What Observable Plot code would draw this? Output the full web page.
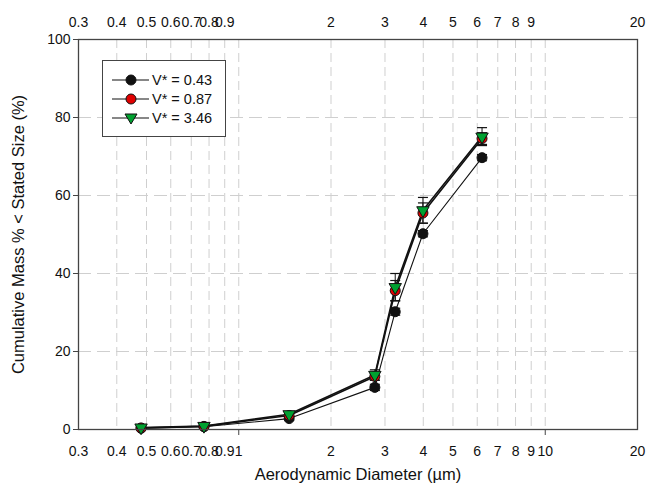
<!DOCTYPE html>
<html>
<head>
<meta charset="utf-8">
<script src="https://cdn.jsdelivr.net/npm/d3@7"></script>
<script src="https://cdn.jsdelivr.net/npm/@observablehq/plot@0.6"></script>
<style>
  html, body { margin: 0; padding: 0; background: #fff; }
  #wrap { position: relative; width: 646px; height: 491px; font-family: "Liberation Sans", Arial, sans-serif; }
  #legend { position: absolute; left: 102px; top: 60px; width: 124px; height: 77px; border: 1px solid #444; background: #fff; box-sizing: border-box; }
</style>
</head>
<body>
<div id="wrap"><div id="chart"></div><div id="legend"></div></div>
<script>
// ---- data ----
const diameters = [0.48, 0.77, 1.46, 2.78, 3.24, 3.99, 6.22];
const seriesNames = ["V* = 0.43", "V* = 0.87", "V* = 3.46"];
const v043 = [0.3, 0.7, 2.8, 10.8, 30.2, 50.2, 69.7];
const v087 = [0.4, 0.8, 3.6, 13.6, 35.6, 55.5, 74.6];
const v346 = [0.5, 0.9, 3.9, 14.0, 36.5, 56.2, 75.1];
const err043 = [0.2, 0.2, 0.4, 0.8, 0.9, 0.8, 0.8];
const err087 = [0.2, 0.3, 0.5, 1.0, 2.6, 2.6, 1.5];
const err346 = [0.2, 0.3, 0.6, 1.3, 3.5, 3.3, 2.3];
const xTicksBottom = [0.3, 0.4, 0.5, 0.6, 0.7, 0.8, 0.9, 1, 2, 3, 4, 5, 6, 7, 8, 9, 10, 20];
const xTicksTop = [0.3, 0.4, 0.5, 0.6, 0.7, 0.8, 0.9, 2, 3, 4, 5, 6, 7, 8, 9, 20];
const xGrid = [0.4, 0.5, 0.6, 0.7, 0.8, 0.9, 1, 2, 3, 4, 5, 6, 7, 8, 9, 10];
const yTicks = [0, 20, 40, 60, 80, 100];
const yGrid = [20, 40, 60, 80];

const styles = [
  {fill: "#111", symbol: "circle", rotate: 0, lw: 1.1, r: 5},
  {fill: "#e00000", symbol: "circle", rotate: 0, lw: 1.6, r: 5},
  {fill: "#00a030", symbol: "triangle", rotate: 180, lw: 1.6, r: 4.6}
];
const values = [v043, v087, v346];
const errs = [err043, err087, err346];

const rows = [];
values.forEach((vals, s) => vals.forEach((v, i) => rows.push({series: s, x: diameters[i], y: v, e: errs[s][i]})));

const cap = {draw(ctx) { ctx.moveTo(-5, 0); ctx.lineTo(5, 0); }};
const font = "'Liberation Sans', Arial, sans-serif";

const marks = [
  Plot.ruleX(xGrid, {stroke: "#cfcfcf", strokeDasharray: "9,5"}),
  Plot.ruleY(yGrid, {stroke: "#cfcfcf", strokeDasharray: "13,6"}),
];
[0, 1, 2].forEach(s => {
  const d = rows.filter(r => r.series === s);
  marks.push(Plot.ruleX(d, {x: "x", y1: r => r.y - r.e, y2: r => r.y + r.e, stroke: "#111", strokeWidth: 1}));
  marks.push(Plot.dot(d, {x: "x", y: r => r.y + r.e, symbol: cap, stroke: "#111", strokeWidth: 1.2, fill: "none"}));
  marks.push(Plot.dot(d, {x: "x", y: r => r.y - r.e, symbol: cap, stroke: "#111", strokeWidth: 1.2, fill: "none"}));
});
[0, 1, 2].forEach(s => {
  const d = rows.filter(r => r.series === s);
  marks.push(Plot.line(d, {x: "x", y: "y", stroke: "#111", strokeWidth: styles[s].lw}));
});
[0, 1, 2].forEach(s => {
  const d = rows.filter(r => r.series === s);
  marks.push(Plot.dot(d, {x: "x", y: "y", symbol: styles[s].symbol, rotate: styles[s].rotate, r: styles[s].r, fill: styles[s].fill, stroke: "#111", strokeWidth: 1}));
});
marks.push(
  Plot.frame({stroke: "#444", strokeWidth: 1.3}),
  // bottom tick labels
  Plot.text(xTicksBottom, {x: d => d, frameAnchor: "bottom", dy: 22, text: d => String(d), fontSize: 14, fill: "#111", lineAnchor: "middle"}),
  // bottom major ticks (1, 10)
  Plot.axisX({anchor: "bottom", ticks: [1, 10], tickSize: 6, tickFormat: () => "", label: null, stroke: "#444"}),
  // top tick labels
  Plot.text(xTicksTop, {x: d => d, frameAnchor: "top", dy: -17, text: d => String(d), fontSize: 14, fill: "#111", lineAnchor: "middle"}),
  Plot.axisY({anchor: "left", ticks: yTicks, tickSize: 5, tickPadding: 3, tickFormat: d => String(d), fontSize: 14, label: null, stroke: "#444"}),
  Plot.text(["Aerodynamic Diameter (µm)"], {frameAnchor: "bottom", dy: 45, fontSize: 16.5, fill: "#111", lineAnchor: "middle"}),
  Plot.text(["Cumulative Mass % < Stated Size (%)"], {frameAnchor: "left", textAnchor: "middle", rotate: -90, dx: -60, fontSize: 16.5, fill: "#111"})
);

const chart = Plot.plot({
  width: 646, height: 491,
  marginLeft: 78, marginRight: 9, marginTop: 39, marginBottom: 62,
  x: {type: "log", domain: [0.3, 20]},
  y: {domain: [0, 100]},
  style: {fontFamily: font, background: "white", color: "#111"},
  marks
});
document.getElementById("chart").appendChild(chart);

// legend
const leg = d3.select("#legend").append("svg").attr("width", 122).attr("height", 75);
seriesNames.forEach((name, s) => {
  const y = 19 + s * 19;
  const g = leg.append("g").attr("transform", `translate(0,${y})`);
  g.append("line").attr("x1", 9).attr("x2", 46).attr("y1", 0).attr("y2", 0).attr("stroke", "#111").attr("stroke-width", 1.2);
  if (styles[s].symbol === "circle") {
    g.append("circle").attr("cx", 28).attr("cy", 0).attr("r", 5).attr("fill", styles[s].fill).attr("stroke", "#111");
  } else {
    g.append("path").attr("d", "M22,-4 L34,-4 L28,6 Z").attr("fill", styles[s].fill).attr("stroke", "#111");
  }
  g.append("text").attr("x", 49).attr("y", 5).attr("font-size", 14.5).attr("fill", "#111")
    .attr("font-family", font).text(name);
});
</script>
</body>
</html>
